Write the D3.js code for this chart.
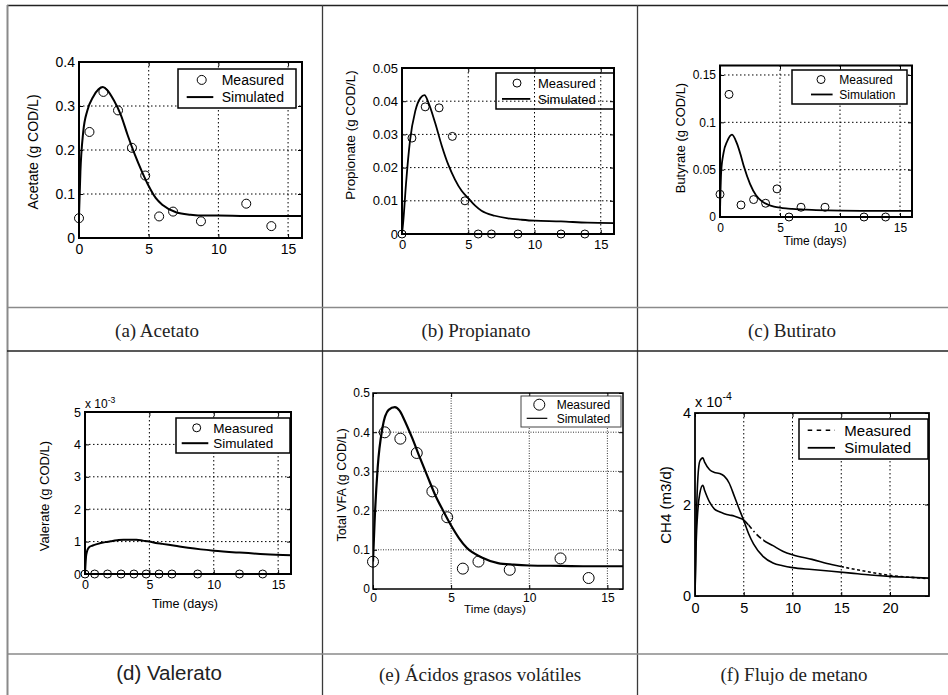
<!DOCTYPE html>
<html><head><meta charset="utf-8">
<script src="https://cdn.jsdelivr.net/npm/d3@7"></script>
<style>body{margin:0;background:#fff}svg{display:block}</style>
</head><body>
<svg id="c" width="948" height="695"></svg>
<script>
// ---------- DATA ----------
const measTime = [0, 0.75, 1.75, 2.8, 3.8, 4.75, 5.75, 6.75, 8.75, 12, 13.8];
const simTime  = [0, 0.1, 0.3, 0.6, 1.0, 1.4, 1.7, 2.0, 2.5, 3.0, 3.5, 4.0, 4.5, 5.0, 5.5, 6, 7, 8, 9, 10, 12, 14, 16];

const acetateMeasured = [0.045, 0.241, 0.332, 0.290, 0.205, 0.142, 0.049, 0.060, 0.038, 0.078, 0.027];
const acetateSimulated = [0.05, 0.15, 0.24, 0.29, 0.32, 0.338, 0.343, 0.337, 0.313, 0.28, 0.233, 0.19, 0.152, 0.118, 0.091, 0.075, 0.058, 0.053, 0.051, 0.051, 0.05, 0.05, 0.05];

const propionateMeasured = [0, 0.0289, 0.0383, 0.038, 0.0294, 0.010, 0, 0, 0, 0, 0];
const propionateSimulated = [0, 0.004, 0.015, 0.028, 0.037, 0.041, 0.0418, 0.0395, 0.0335, 0.0266, 0.0208, 0.0164, 0.013, 0.0108, 0.0086, 0.007, 0.0055, 0.0047, 0.0043, 0.004, 0.0038, 0.0034, 0.0033];

const butyrateMeasured = [0.024, 0.1295, 0.0127, 0.0184, 0.0145, 0.0297, 0, 0.0103, 0.0103, 0, 0];
const butyrateSimulated = [0.005, 0.048, 0.068, 0.08, 0.087, 0.078, 0.0665, 0.053, 0.035, 0.023, 0.0165, 0.013, 0.011, 0.0098, 0.009, 0.0085, 0.0078, 0.0072, 0.0069, 0.0067, 0.0065, 0.0064, 0.0064];

const valerateMeasured = [0, 0, 0, 0, 0, 0, 0, 0, 0, 0, 0];
const valerateSimulated = [0, 0.60e-3, 0.82e-3, 0.88e-3, 0.93e-3, 0.97e-3, 0.99e-3, 1.01e-3, 1.04e-3, 1.06e-3, 1.06e-3, 1.06e-3, 1.03e-3, 1.00e-3, 0.96e-3, 0.93e-3, 0.87e-3, 0.81e-3, 0.76e-3, 0.72e-3, 0.66e-3, 0.61e-3, 0.58e-3];

const vfaMeasured = [0.0697, 0.3997, 0.3835, 0.347, 0.249, 0.183, 0.052, 0.070, 0.049, 0.078, 0.028];
const vfaSimulated = [0.07, 0.17, 0.31, 0.41, 0.457, 0.464, 0.455, 0.432, 0.386, 0.335, 0.286, 0.238, 0.199, 0.162, 0.13, 0.105, 0.08, 0.066, 0.062, 0.06, 0.059, 0.058, 0.058];

const ch4Time = [0, 0.1, 0.3, 0.5, 0.8, 1.0, 1.5, 2, 2.5, 3, 3.5, 4, 4.5, 5, 5.5, 6, 7, 8, 9, 10, 12, 14, 16, 18, 20, 22, 24];
const ch4Simulated = [0, 1.3e-4, 2.6e-4, 2.95e-4, 3.02e-4, 2.92e-4, 2.76e-4, 2.70e-4, 2.68e-4, 2.62e-4, 2.47e-4, 2.20e-4, 1.92e-4, 1.65e-4, 1.36e-4, 1.14e-4, 0.86e-4, 0.72e-4, 0.66e-4, 0.62e-4, 0.58e-4, 0.54e-4, 0.50e-4, 0.46e-4, 0.43e-4, 0.41e-4, 0.39e-4];
const ch4Measured = [0, 1.0e-4, 1.9e-4, 2.25e-4, 2.42e-4, 2.3e-4, 2.05e-4, 1.9e-4, 1.84e-4, 1.8e-4, 1.77e-4, 1.75e-4, 1.71e-4, 1.66e-4, 1.55e-4, 1.42e-4, 1.22e-4, 1.10e-4, 0.98e-4, 0.90e-4, 0.80e-4, 0.69e-4, 0.60e-4, 0.52e-4, 0.45e-4, 0.41e-4, 0.38e-4];

const xTicks16 = [0, 5, 10, 15];
const xTickLabels16 = ["0", "5", "10", "15"];
const xTicks24 = [0, 5, 10, 15, 20];
const xTickLabels24 = ["0", "5", "10", "15", "20"];
const yTicksA = [0, 0.1, 0.2, 0.3, 0.4];           const yLabelsA = ["0", "0.1", "0.2", "0.3", "0.4"];
const yTicksB = [0, 0.01, 0.02, 0.03, 0.04, 0.05]; const yLabelsB = ["0", "0.01", "0.02", "0.03", "0.04", "0.05"];
const yTicksC = [0, 0.05, 0.1, 0.15];              const yLabelsC = ["0", "0.05", "0.1", "0.15"];
const yTicksD = [0, 1e-3, 2e-3, 3e-3, 4e-3, 5e-3]; const yLabelsD = ["0", "1", "2", "3", "4", "5"];
const yTicksE = [0, 0.1, 0.2, 0.3, 0.4, 0.5];      const yLabelsE = ["0", "0.1", "0.2", "0.3", "0.4", "0.5"];
const yTicksF = [0, 2e-4, 4e-4];                   const yLabelsF = ["0", "2", "4"];

const captions = ["(a) Acetato", "(b) Propianato", "(c) Butirato", "(d) Valerato", "(e) Ácidos grasos volátiles", "(f) Flujo de metano"];

// ---------- DRAWING ----------
const svg = d3.select('#c');
const SANS = "'Liberation Sans', Arial, Helvetica, sans-serif";
const SERIF = "'Liberation Serif', 'Times New Roman', serif";

// table
const tbl = svg.append('g').attr('fill', 'none');
tbl.append('line').attr('x1', 7).attr('x2', 948).attr('y1', 5.5).attr('y2', 5.5).attr('stroke', '#222').attr('stroke-width', 1.5);
tbl.append('line').attr('x1', 7.5).attr('x2', 7.5).attr('y1', 5).attr('y2', 695).attr('stroke', '#8a8a8a').attr('stroke-width', 2);
[322.5, 637.5].forEach(xv => tbl.append('line').attr('x1', xv).attr('x2', xv).attr('y1', 5).attr('y2', 695).attr('stroke', '#3a3a3a').attr('stroke-width', 1.3));
tbl.append('line').attr('x1', 7).attr('x2', 948).attr('y1', 307.5).attr('y2', 307.5).attr('stroke', '#8a8a8a').attr('stroke-width', 1.6);
tbl.append('line').attr('x1', 7).attr('x2', 948).attr('y1', 351).attr('y2', 351).attr('stroke', '#222').attr('stroke-width', 1.5);
tbl.append('line').attr('x1', 7).attr('x2', 948).attr('y1', 654).attr('y2', 654).attr('stroke', '#8a8a8a').attr('stroke-width', 1.6);

// captions
const capPos = [[157, 337, SERIF, 19], [476, 337, SERIF, 19], [792, 337, SERIF, 19],
                [169, 680, SANS, 20.5], [480, 681, SERIF, 19], [794, 681, SERIF, 19]];
captions.forEach((c, i) => {
  const p = capPos[i];
  svg.append('text').attr('x', p[0]).attr('y', p[1]).attr('text-anchor', 'middle')
    .attr('font-family', p[2]).attr('font-size', p[3])
    .attr('fill', '#222').text(c);
});

let clipId = 0;
function panel(o) {
  const x = d3.scaleLinear().domain(o.xDomain).range([o.x0, o.x1]);
  const y = d3.scaleLinear().domain(o.yDomain).range([o.y1, o.y0]);
  const g = svg.append('g');
  const id = 'clip' + (clipId++);

  // grid
  const gd = o.gridDash || '1.5,2.5';
  g.selectAll('.gx').data(o.xTicks.filter(t => t > o.xDomain[0] && t < o.xDomain[1])).enter()
    .append('line').attr('x1', d => x(d)).attr('x2', d => x(d)).attr('y1', o.y0).attr('y2', o.y1)
    .attr('stroke', o.gridColor || '#000').attr('stroke-width', 1).attr('stroke-dasharray', gd);
  g.selectAll('.gy').data(o.yTicks.filter(t => t > o.yDomain[0] && t < o.yDomain[1])).enter()
    .append('line').attr('y1', d => y(d)).attr('y2', d => y(d)).attr('x1', o.x0).attr('x2', o.x1)
    .attr('stroke', o.gridColor || '#000').attr('stroke-width', 1).attr('stroke-dasharray', gd);

  // axes
  const styleAxis = sel => {
    sel.select('.domain').remove();
    sel.selectAll('line').attr('stroke', '#000');
    sel.selectAll('text').attr('font-family', SANS).attr('font-size', o.tickFont).attr('fill', '#000');
  };
  g.append('g').attr('transform', `translate(0,${o.y1})`)
    .call(d3.axisBottom(x).tickValues(o.xTicks).tickFormat((d, i) => o.xLabels[i]).tickSizeInner(-4).tickSizeOuter(0).tickPadding(o.xPad))
    .call(styleAxis);
  g.append('g').attr('transform', `translate(${o.x0},0)`)
    .call(d3.axisLeft(y).tickValues(o.yTicks).tickFormat((d, i) => o.yLabels[i]).tickSizeInner(-4).tickSizeOuter(0).tickPadding(o.yPad))
    .call(styleAxis);
  g.append('g').attr('transform', `translate(0,${o.y0})`)
    .call(d3.axisTop(x).tickValues(o.xTicks).tickFormat('').tickSizeInner(-4).tickSizeOuter(0)).call(styleAxis);
  g.append('g').attr('transform', `translate(${o.x1},0)`)
    .call(d3.axisRight(y).tickValues(o.yTicks).tickFormat('').tickSizeInner(-4).tickSizeOuter(0)).call(styleAxis);

  // simulated and measured series
  o.series.forEach(s => {
    const pts = s.t.map((t, i) => [t, s.v[i]]);
    if (s.type === 'line') {
      const line = d3.line().x(d => x(d[0])).y(d => y(d[1])).curve(d3.curveMonotoneX);
      const parts = s.dashParts || [[o.xDomain[0], o.xDomain[1], null]];
      parts.forEach((pp, k) => {
        const cid = id + 's' + k + (s.key || '');
        g.append('clipPath').attr('id', cid).append('rect')
          .attr('x', x(pp[0])).attr('y', o.y0 - 8).attr('width', x(pp[1]) - x(pp[0])).attr('height', o.y1 - o.y0 + 16);
        g.append('path').datum(pts).attr('d', line).attr('fill', 'none').attr('stroke', '#000')
          .attr('stroke-width', s.width).attr('stroke-dasharray', pp[2]).attr('stroke-linejoin', 'round')
          .attr('clip-path', `url(#${cid})`);
      });
    } else {
      g.selectAll(null).data(pts).enter().append('circle')
        .attr('cx', d => x(d[0])).attr('cy', d => y(d[1])).attr('r', s.r)
        .attr('fill', 'none').attr('stroke', '#000').attr('stroke-width', 1);
    }
  });

  // frame
  g.append('rect').attr('x', o.x0).attr('y', o.y0).attr('width', o.x1 - o.x0).attr('height', o.y1 - o.y0)
    .attr('fill', 'none').attr('stroke', '#000').attr('stroke-width', o.frameW || 1.8);

  // legend
  const L = o.legend;
  const lx = o.x1 - L.inR - L.w, ly = o.y0 + L.inT;
  const lg = g.append('g').attr('transform', `translate(${lx},${ly})`);
  lg.append('rect').attr('width', L.w).attr('height', L.h).attr('fill', L.fill === false ? 'none' : '#fff')
    .attr('stroke', L.stroke || '#000').attr('stroke-width', L.sw || 1.5);
  const r1 = L.h * 0.28, r2 = L.h * 0.72;
  L.items.forEach((it, k) => {
    const ry = k === 0 ? r1 : r2;
    if (it.kind === 'circle') {
      lg.append('circle').attr('cx', L.symC).attr('cy', ry).attr('r', it.r).attr('fill', 'none').attr('stroke', '#000').attr('stroke-width', 1);
    } else {
      lg.append('line').attr('x1', L.lineA).attr('x2', L.lineB).attr('y1', ry).attr('y2', ry)
        .attr('stroke', '#000').attr('stroke-width', it.w).attr('stroke-dasharray', it.dash || null);
    }
    lg.append('text').attr('x', L.textX).attr('y', ry).attr('dy', '0.36em').attr('font-family', SANS)
      .attr('font-size', L.font).attr('fill', '#000').text(it.label);
  });

  // y label
  svg.append('text').attr('transform', `translate(${o.ylab[0]},${o.ylab[1]}) rotate(-90)`)
    .attr('text-anchor', 'middle').attr('font-family', SANS).attr('font-size', o.ylab[2]).attr('fill', '#000').text(o.ylab[3]);
  if (o.xlab) {
    svg.append('text').attr('x', o.xlab[0]).attr('y', o.xlab[1]).attr('text-anchor', 'middle')
      .attr('font-family', SANS).attr('font-size', o.xlab[2]).attr('fill', '#000').text(o.xlab[3]);
  }
  if (o.expo) {
    const t = svg.append('text').attr('x', o.x0).attr('y', o.expo[0]).attr('font-family', SANS)
      .attr('font-size', o.expo[1]).attr('fill', '#000');
    t.append('tspan').text('x 10');
    t.append('tspan').attr('dy', -o.expo[1] * 0.45).attr('font-size', o.expo[1] * 0.72).text(o.expo[2]);
  }
}

// (a) Acetate
panel({
  x0: 79, x1: 302, y0: 62, y1: 238, xDomain: [0, 16], yDomain: [0, 0.4],
  xTicks: xTicks16, xLabels: xTickLabels16, yTicks: yTicksA, yLabels: yLabelsA,
  tickFont: 14, xPad: 6, yPad: 4, frameW: 2,
  series: [
    { type: 'line', t: simTime, v: acetateSimulated, width: 2 },
    { type: 'circle', t: measTime, v: acetateMeasured, r: 4.5 }
  ],
  legend: { inR: 6, inT: 7, w: 118, h: 39, symC: 23.7, lineA: 8.7, lineB: 35.3, textX: 43.7, font: 14,
    items: [{ kind: 'circle', r: 4.5, label: 'Measured' }, { kind: 'line', w: 2, label: 'Simulated' }] },
  ylab: [38, 152, 14, 'Acetate (g COD/L)']
});

// (b) Propionate
panel({
  x0: 402, x1: 614, y0: 68, y1: 234, xDomain: [0, 16], yDomain: [0, 0.05],
  xTicks: xTicks16, xLabels: xTickLabels16, yTicks: yTicksB, yLabels: yLabelsB,
  tickFont: 13, xPad: 6, yPad: 4, frameW: 2,
  series: [
    { type: 'line', t: simTime, v: propionateSimulated, width: 1.8 },
    { type: 'circle', t: measTime, v: propionateMeasured, r: 4 }
  ],
  legend: { inR: 0, inT: 5, w: 118, h: 36, symC: 21, lineA: 6, lineB: 34.3, textX: 42, font: 13, fill: false,
    items: [{ kind: 'circle', r: 4, label: 'Measured' }, { kind: 'line', w: 1.8, label: 'Simulated' }] },
  ylab: [355, 135, 13.4, 'Propionate (g COD/L)']
});

// (c) Butyrate
panel({
  x0: 720, x1: 912, y0: 65.5, y1: 217, xDomain: [0, 16], yDomain: [0, 0.16],
  xTicks: xTicks16, xLabels: xTickLabels16, yTicks: yTicksC, yLabels: yLabelsC,
  tickFont: 12, xPad: 6, yPad: 4, frameW: 2,
  series: [
    { type: 'line', t: simTime, v: butyrateSimulated, width: 1.8 },
    { type: 'circle', t: measTime, v: butyrateMeasured, r: 4 }
  ],
  legend: { inR: 5, inT: 4.5, w: 115, h: 34, symC: 29, lineA: 19, lineB: 40.6, textX: 47.3, font: 12,
    items: [{ kind: 'circle', r: 4, label: 'Measured' }, { kind: 'line', w: 1.8, label: 'Simulation' }] },
  ylab: [685, 138, 12.9, 'Butyrate  (g COD/L)'],
  xlab: [815, 245, 12, 'Time (days)']
});

// (d) Valerate
panel({
  x0: 85, x1: 291, y0: 412, y1: 574, xDomain: [0, 16], yDomain: [0, 5e-3],
  xTicks: xTicks16, xLabels: xTickLabels16, yTicks: yTicksD, yLabels: yLabelsD,
  tickFont: 12.5, xPad: 6, yPad: 4, frameW: 2,
  series: [
    { type: 'line', t: simTime, v: valerateSimulated, width: 2 },
    { type: 'circle', t: measTime, v: valerateMeasured, r: 4 }
  ],
  legend: { inR: 1, inT: 6, w: 114, h: 35, symC: 20.7, lineA: 5.7, lineB: 32.3, textX: 37.3, font: 13.5,
    items: [{ kind: 'circle', r: 4, label: 'Measured' }, { kind: 'line', w: 2, label: 'Simulated' }] },
  ylab: [49, 496, 13, 'Valerate (g COD/L)'],
  xlab: [185, 608, 12.6, 'Time (days)'],
  expo: [408, 12, '-3']
});

// (e) Total VFA
panel({
  x0: 373, x1: 623, y0: 393, y1: 589, xDomain: [0, 16], yDomain: [0, 0.5],
  xTicks: xTicks16, xLabels: xTickLabels16, yTicks: yTicksE, yLabels: yLabelsE,
  tickFont: 12, xPad: 4, yPad: 3, frameW: 1.5, gridDash: '1,1.5', gridColor: '#333',
  series: [
    { type: 'line', t: simTime, v: vfaSimulated, width: 2.2 },
    { type: 'circle', t: measTime, v: vfaMeasured, r: 5.5 }
  ],
  legend: { inR: 2, inT: 3, w: 100, h: 31, symC: 18.3, lineA: 5.7, lineB: 26.3, textX: 35.7, font: 12, sw: 1, stroke: '#444',
    items: [{ kind: 'circle', r: 5.5, label: 'Measured' }, { kind: 'line', w: 1.2, label: 'Simulated' }] },
  ylab: [346, 485, 12.5, 'Total VFA (g COD/L)'],
  xlab: [495, 613, 11.8, 'Time (days)']
});

// (f) Methane flow
panel({
  x0: 695, x1: 929, y0: 413, y1: 596, xDomain: [0, 24], yDomain: [0, 4e-4],
  xTicks: xTicks24, xLabels: xTickLabels24, yTicks: yTicksF, yLabels: yLabelsF,
  tickFont: 14.5, xPad: 7, yPad: 4, frameW: 1.8,
  series: [
    { type: 'line', t: ch4Time, v: ch4Simulated, width: 1.6, key: 's' },
    { type: 'line', t: ch4Time, v: ch4Measured, width: 1.6, key: 'm',
      dashParts: [[0, 5.5, null], [5.5, 7, '6,3,1.5,3'], [7, 15, null], [15, 24, '3,2.5']] }
  ],
  legend: { inR: 1, inT: 6, w: 129, h: 40, symC: 20, lineA: 8.7, lineB: 36, textX: 45.3, font: 15,
    items: [{ kind: 'line', w: 1.5, dash: '4.5,4.5', label: 'Measured' }, { kind: 'line', w: 1.8, label: 'Simulated' }] },
  ylab: [671, 505, 15, 'CH4 (m3/d)'],
  expo: [406.5, 14.5, '-4']
});
</script>
</body></html>
